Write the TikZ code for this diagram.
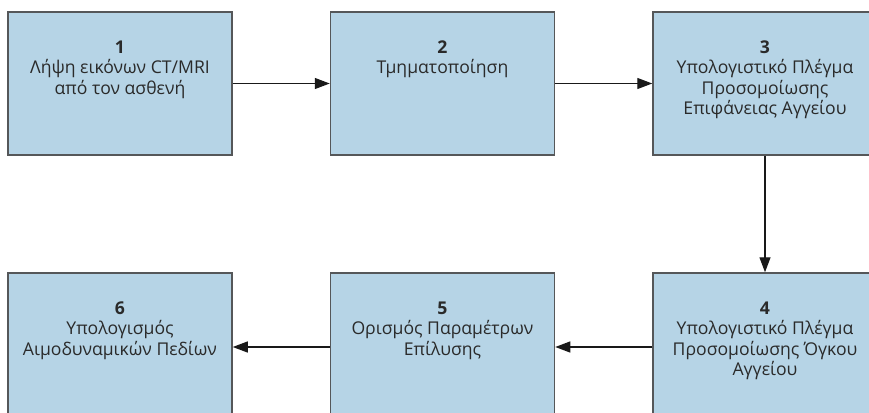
\documentclass[tikz,border=0pt]{standalone}
\usepackage{fontspec}
\setmainfont{Open Sans}
\usetikzlibrary{arrows.meta}
\definecolor{boxfill}{HTML}{B6D4E6}
\definecolor{boxline}{HTML}{555759}
\definecolor{txt}{HTML}{2A2A2A}
\tikzset{
  stepbox/.style={draw=boxline, line width=1.5pt, fill=boxfill, rectangle,
    minimum width=224pt, minimum height=143pt, inner sep=0pt},
  lowbox/.style={stepbox, minimum height=148pt},
  lbl/.style={anchor=north, align=center, inner sep=0pt, text=txt,
    font=\fontsize{17.6pt}{20.5pt}\selectfont},
  arr/.style={line width=1.3pt, draw=black!90, -{Triangle[length=15pt,width=11pt]}}
}
\begin{document}
\begin{tikzpicture}[x=1pt,y=-1pt]
\useasboundingbox (0,0) rectangle (869,412);
\clip (0,0) rectangle (869,412);
\node[stepbox] (b1) at (120,83.5) {};
\node[stepbox] (b2) at (442.5,83.5) {};
\node[stepbox] (b3) at (765,83.5) {};
\node[lowbox] (b4) at (765,347) {};
\node[lowbox] (b5) at (442.5,347) {};
\node[lowbox] (b6) at (120,347) {};
\node[lbl] (t1) at ([yshift=-29pt]b1.north) {\textbf{1}\\Λήψη εικόνων CT/MRI\\από τον ασθενή};
\node[lbl] (t2) at ([yshift=-29pt]b2.north) {\textbf{2}\\Τμηματοποίηση};
\node[lbl] (t3) at ([yshift=-29pt]b3.north) {\textbf{3}\\Υπολογιστικό Πλέγμα\\Προσομοίωσης\\Επιφάνειας Αγγείου};
\node[lbl] (t4) at ([yshift=-29pt]b4.north) {\textbf{4}\\Υπολογιστικό Πλέγμα\\Προσομοίωσης Όγκου\\Αγγείου};
\node[lbl] (t5) at ([yshift=-29pt]b5.north) {\textbf{5}\\Ορισμός Παραμέτρων\\Επίλυσης};
\node[lbl] (t6) at ([yshift=-29pt]b6.north) {\textbf{6}\\Υπολογισμός\\Αιμοδυναμικών Πεδίων};
\draw[arr] (b1.east) -- (b2.west);
\draw[arr] (b2.east) -- (b3.west);
\draw[arr] (b3.south) -- (b4.north);
\draw[arr] (b4.west) -- (b5.east);
\draw[arr] (b5.west) -- (b6.east);
\end{tikzpicture}
\end{document}
